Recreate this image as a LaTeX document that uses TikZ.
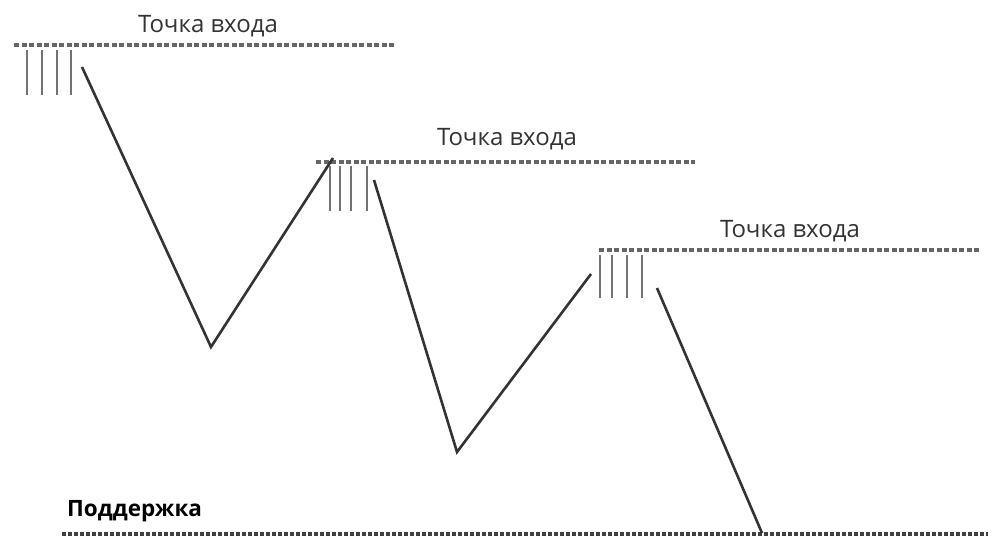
\documentclass[tikz,border=0pt]{standalone}
\usepackage{fontspec}
\setmainfont{Open Sans}
\usetikzlibrary{positioning}

\begin{document}
\begin{tikzpicture}[
  x=1pt, y=-1pt,
  every node/.style={font=\fontsize{24}{28}\selectfont, text=black!80, inner sep=0pt},
  level/.style={draw=black!60, line width=3.5pt, dash pattern=on 5pt off 2.5pt},
  support/.style={draw=black!75, line width=4.5pt, dash pattern=on 4pt off 2pt},
  tick/.style={draw=black!55, line width=2.6pt},
  price/.style={draw=black!80, line width=2.6pt}
]
\useasboundingbox (0,0) rectangle (993,538);

% entry levels
\draw[level] (14,45) coordinate (l1a) -- (395,45) coordinate (l1b);
\node (e1) at (208,26) {Точка входа};
\draw[level] (316,162) coordinate (l2a) -- (695,162) coordinate (l2b);
\node (e2) at (507,139) {Точка входа};
\draw[level] (599,250) coordinate (l3a) -- (980,250) coordinate (l3b);
\node (e3) at (790,231) {Точка входа};

% support
\draw[support] (62,534) coordinate (s1) -- (988,534) coordinate (s2);
\node[font=\bfseries\fontsize{22.5}{26}\selectfont, text=black, anchor=west] (sup) at (67,511) {Поддержка};

% ticks under each level
\foreach \x in {27,42,57,71} \draw[tick] (\x,50) -- (\x,95);
\foreach \x in {330,340,351,367} \draw[tick] (\x,166) -- (\x,211);
\foreach \x in {600,612,627,642} \draw[tick] (\x,255) -- (\x,298);

% price path
\coordinate (p1) at (82,67);
\coordinate (p2) at (211,347);
\coordinate (p3) at (333,158);
\coordinate (p4) at (374,180);
\coordinate (p5) at (457,452);
\coordinate (p6) at (591,274);
\coordinate (p7) at (657,288);
\coordinate (p8) at (762,533);
\draw[price] (p1) -- (p2) -- (p3);
\draw[price] (p4) -- (p5) -- (p6);
\draw[price] (p7) -- (p8);
\end{tikzpicture}
\end{document}
